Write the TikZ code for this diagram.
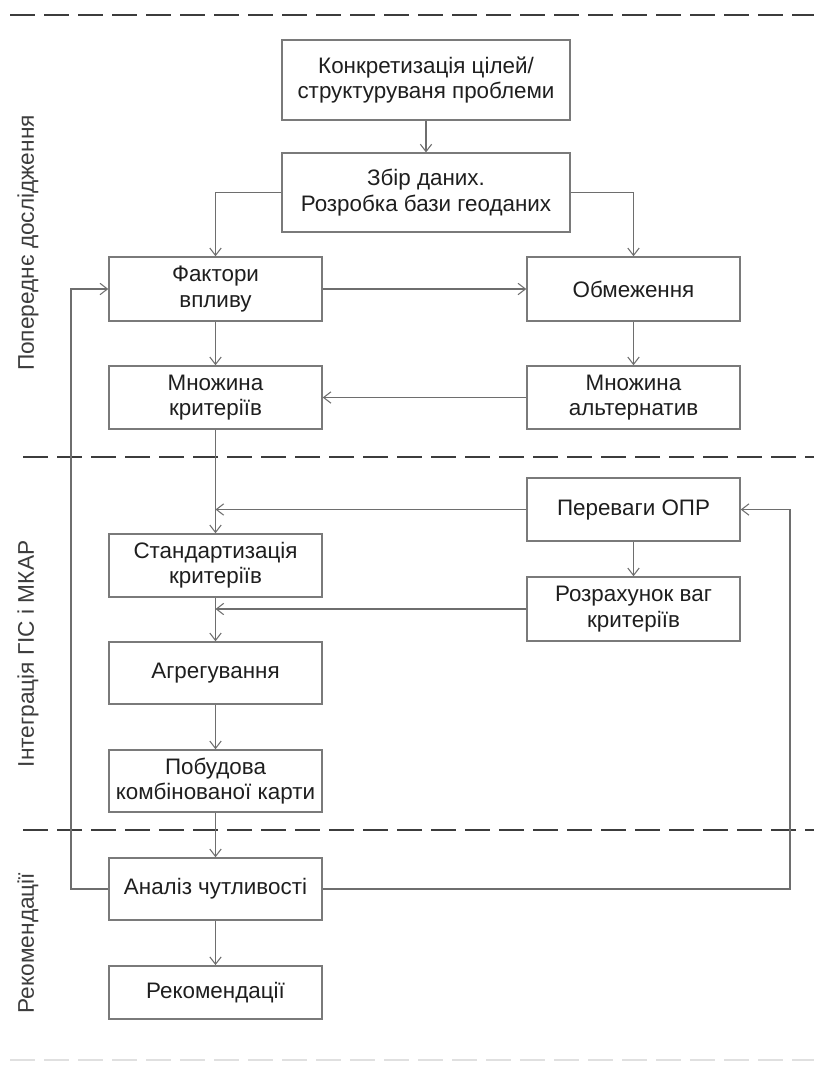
\documentclass[tikz,border=0pt]{standalone}
\usepackage{fontspec}
\setmainfont{Liberation Sans}
\usetikzlibrary{arrows.meta}
\definecolor{boxgray}{HTML}{7A7A7A}
\definecolor{linkgray}{HTML}{6E6E6E}
\definecolor{sepgray}{HTML}{3C3C3C}
\definecolor{textgray}{HTML}{1E1E1E}
\begin{document}
\begin{tikzpicture}[x=0.75pt,y=-0.75pt,
	block/.style={draw=boxgray,line width=1.1pt,text=textgray,align=center,inner sep=0pt,
		minimum width=159.75pt,minimum height=47.25pt,font=\fontsize{16.8}{19}\selectfont},
	wideblock/.style={block,minimum width=216pt,minimum height=60pt},
	link/.style={draw=linkgray,line width=0.8pt,-{Straight Barb[length=5.5pt,width=8.5pt]}},
	sep/.style={draw=sepgray,line width=2.2pt,dash pattern=on 19pt off 6.5pt},
	stage/.style={rotate=90,text=sepgray,font=\fontsize{17}{20}\selectfont}]
	\useasboundingbox (0,0) rectangle (814,1068);
	% stages
	\draw[sep] (10,15) -- (814,15);
	\draw[sep] (23,457) -- (814,457);
	\draw[sep] (23,830) -- (814,830);
	\draw[sep,draw=black!12,line width=1.6pt] (10,1060) -- (814,1060);
	\node[stage] at (28,243) (pre) {Попереднє дослідження};
	\node[stage] at (28,654) (integr) {Інтеграція ГІС і МКАР};
	\node[stage] at (28,943) (rec) {Рекомендації};
	% blocks
	\node[wideblock] at (426,80) (goals) {Конкретизація цілей/\\структуруваня проблеми};
	\node[wideblock,minimum height=59pt] at (426,192.5) (data) {Збір даних.\\Розробка бази геоданих};
	\node[block,minimum height=48pt] at (215.5,289) (factors) {Фактори\\впливу};
	\node[block,minimum height=48pt] at (633.5,289) (limits) {Обмеження};
	\node[block] at (215.5,397.5) (crit) {Множина\\критеріїв};
	\node[block] at (633.5,397.5) (alts) {Множина\\альтернатив};
	\node[block] at (633.5,509.5) (prefs) {Переваги ОПР};
	\node[block] at (215.5,565.5) (std) {Стандартизація\\критеріїв};
	\node[block,minimum height=48pt] at (633.5,609) (weights) {Розрахунок ваг\\критеріїв};
	\node[block,minimum height=46.5pt] at (215.5,673) (aggr) {Агрегування};
	\node[block,minimum height=46.5pt] at (215.5,781) (combo) {Побудова\\комбінованої карти};
	\node[block,minimum height=46.5pt] at (215.5,889) (sens) {Аналіз чутливості};
	\node[block,minimum height=40pt] at (215.5,992.5) (recs) {Рекомендації};
	\coordinate (fbl) at (71,889);
	\coordinate (fbr) at (790,889);
	% links
	\draw[link] (goals) -- (data);
	\draw[link] (data.west) -| (factors.north);
	\draw[link] (data.east) -| (limits.north);
	\draw[link] (factors) -- (limits);
	\draw[link] (factors) -- (crit);
	\draw[link] (limits) -- (alts);
	\draw[link] (alts) -- (crit);
	\draw[link] (crit) -- (std);
	\draw[link] (prefs.west) -- (prefs.west -| crit.south);
	\draw[link] (prefs) -- (weights);
	\draw[link] (weights.west) -- (weights.west -| std.south);
	\draw[link] (std) -- (aggr);
	\draw[link] (aggr) -- (combo);
	\draw[link] (combo) -- (sens);
	\draw[link] (sens) -- (recs);
	\draw[link] (sens.west) -- (fbl) |- (factors.west);
	\draw[link] (sens.east) -- (fbr) |- (prefs.east);
\end{tikzpicture}
\end{document}
